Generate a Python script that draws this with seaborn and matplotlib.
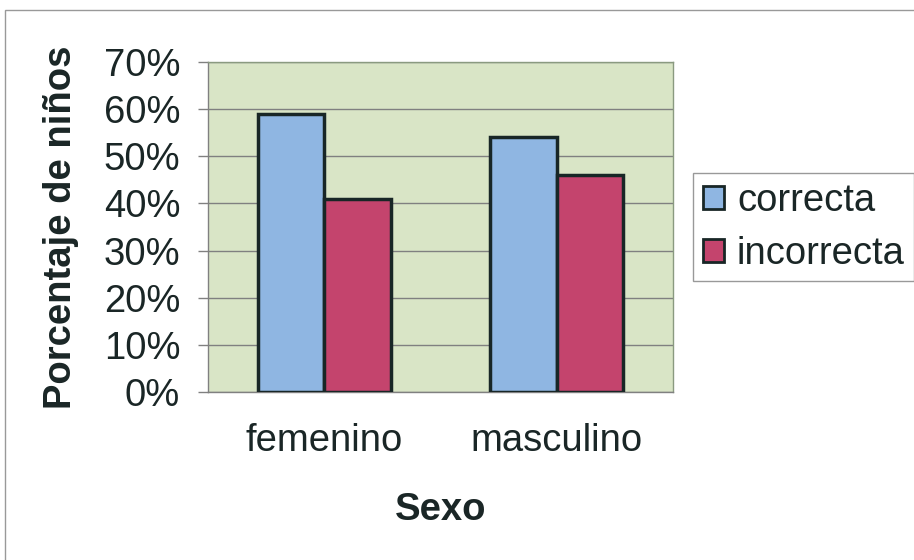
import pandas as pd
import numpy as np
import matplotlib
matplotlib.use('Agg')
import matplotlib.pyplot as plt
import matplotlib.patches as mpatches
import seaborn as sns

# datos del gráfico
sexos = ['femenino', 'masculino']
respuestas = ['correcta', 'incorrecta']
correcta = [0.59, 0.54]
incorrecta = [0.41, 0.46]
yticks = [0.0, 0.1, 0.2, 0.3, 0.4, 0.5, 0.6, 0.7]

df = pd.DataFrame({
    'Sexo': sexos * 2,
    'respuesta': [respuestas[0]] * 2 + [respuestas[1]] * 2,
    'valor': correcta + incorrecta,
})

sns.set_style('white')
plt.rcParams['font.family'] = ['Liberation Sans', 'DejaVu Sans']

FS = 27.5
TXT = '#1a2626'

fig = plt.figure(figsize=(9.14, 5.6), dpi=100)
ax = fig.add_axes([208 / 914, 168 / 560, 465 / 914, 330 / 560])
ax.set_facecolor('#d9e5c6')

colores = {'correcta': '#8fb6e2', 'incorrecta': '#c4446d'}
sns.barplot(data=df, x='Sexo', y='valor', hue='respuesta', order=sexos,
            hue_order=respuestas, palette=colores, width=0.57, gap=0,
            edgecolor='#182626', linewidth=2.5, saturation=1, ax=ax, zorder=3)

ax.set_ylim(0, 0.7)
ax.set_xlim(-0.5, 1.5)
ax.set_yticks(yticks)
ax.set_yticklabels([f'{int(round(t * 100))}%' for t in yticks], fontsize=FS, color=TXT)
ax.yaxis.grid(True, color='#808080', linewidth=1, zorder=0)
ax.set_axisbelow(True)

# ticks en los bordes de las categorías
ax.set_xticks([0, 1])
ax.set_xticklabels(sexos, fontsize=FS, color=TXT)
ax.set_xticks([-0.5, 0.5, 1.5], minor=True)
ax.tick_params(axis='x', which='major', length=0, pad=22)
ax.tick_params(axis='x', which='minor', length=8, color='#808080', width=1)
ax.tick_params(axis='y', length=7, color='#808080', width=1, pad=13, left=True)

for s in ax.spines.values():
    s.set_color('#8a9a80')
    s.set_linewidth(1)
ax.spines['left'].set_color('#808080')
ax.spines['bottom'].set_color('#808080')

ax.set_xlabel('Sexo', fontsize=FS, fontweight='bold', labelpad=24, color=TXT)
ax.set_ylabel('Porcentaje de niños', fontsize=FS, fontweight='bold', labelpad=18, color=TXT)

ax.get_legend().remove()
handles = [mpatches.Patch(facecolor=colores[r], edgecolor='#182626', linewidth=2) for r in respuestas]
leg = fig.legend(handles, respuestas, loc='upper left', bbox_to_anchor=(693 / 914, 1 - 173 / 560),
                 fontsize=FS, frameon=True, fancybox=False, edgecolor='#808080',
                 handlelength=0.55, handleheight=0.55, handletextpad=0.35,
                 labelspacing=0.45, borderpad=0.25, borderaxespad=0, labelcolor=TXT)
leg.get_frame().set_linewidth(1)

# borde del área del gráfico
fig.patches.append(mpatches.Rectangle((5 / 914, -0.02), 2, 1 - 10 / 560 + 0.02,
                                      transform=fig.transFigure, fill=False,
                                      edgecolor='#999999', linewidth=1))

fig.savefig('out.png', dpi=100)
